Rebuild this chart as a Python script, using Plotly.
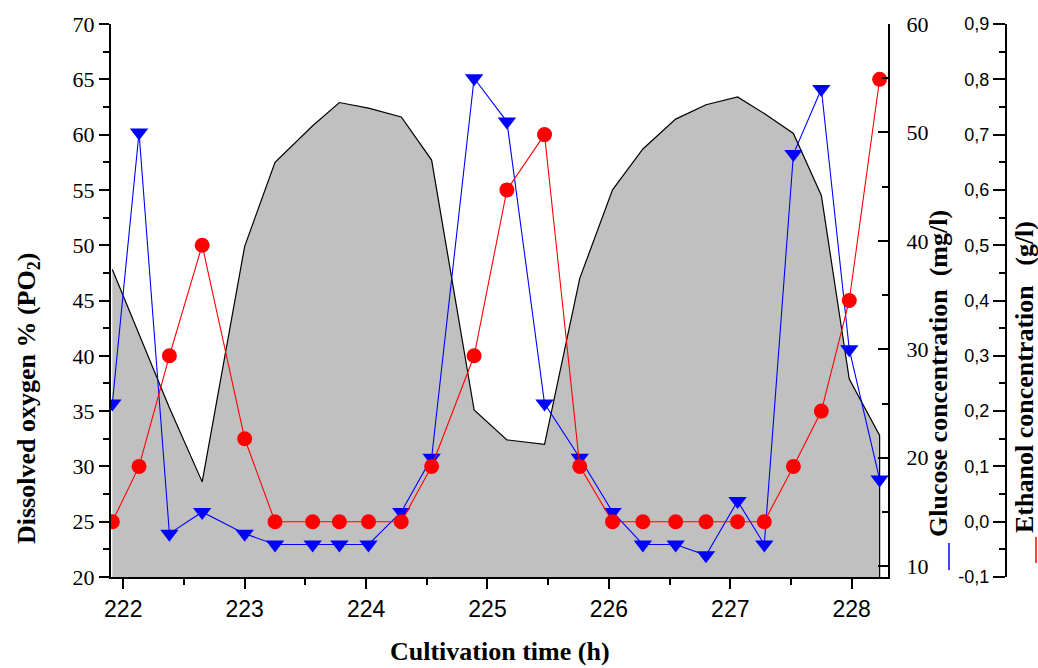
import plotly.graph_objects as go

# Sampling times (h)
TIME = [221.91, 222.13, 222.38, 222.65, 223.00, 223.25, 223.56, 223.78, 224.02,
        224.29, 224.54, 224.89, 225.16, 225.47, 225.76, 226.03, 226.28, 226.55,
        226.80, 227.06, 227.28, 227.52, 227.75, 227.98, 228.23]

# Dissolved oxygen, % of saturation (PO2)
DISSOLVED_O2 = [47.8, 41.9, 35.3, 28.6, 49.9, 57.5, 60.8, 62.9, 62.4, 61.6, 57.7,
                35.1, 32.4, 32.0, 47.0, 55.0, 58.7, 61.4, 62.7, 63.4, 61.9, 60.1,
                54.5, 37.9, 32.8]

# Glucose concentration (mg/l)
GLUCOSE = [25, 50, 13, 15, 13, 12, 12, 12, 12, 15, 20, 55, 51, 25, 20, 15, 12, 12,
           11, 16, 12, 48, 54, 30, 18]

# Ethanol concentration (g/l)
ETHANOL = [0.0, 0.1, 0.3, 0.5, 0.15, 0.0, 0.0, 0.0, 0.0, 0.0, 0.1, 0.3, 0.6, 0.7,
           0.1, 0.0, 0.0, 0.0, 0.0, 0.0, 0.0, 0.1, 0.2, 0.4, 0.8]

X_TICKS = [222, 223, 224, 225, 226, 227, 228]
ETHANOL_TICKS = [-0.1, 0.0, 0.1, 0.2, 0.3, 0.4, 0.5, 0.6, 0.7, 0.8, 0.9]
ETHANOL_TICK_LABELS = ["-0,1", "0,0", "0,1", "0,2", "0,3", "0,4", "0,5", "0,6",
                       "0,7", "0,8", "0,9"]

O2_RANGE = [20, 70]
GLUCOSE_RANGE = [9, 60]
ETHANOL_RANGE = [-0.1, 0.9]
TIME_RANGE = [221.899, 228.299]

SERIF = "Liberation Serif, Times New Roman, serif"
SANS = "Liberation Sans, Arial, sans-serif"
NARROW = "Liberation Sans Narrow, Arial Narrow, Liberation Sans, Arial, sans-serif"

fig = go.Figure()

# Dissolved oxygen as a grey area, closed down to the axis floor at the last sample
fig.add_trace(go.Scatter(
    x=TIME + [TIME[-1]],
    y=DISSOLVED_O2 + [O2_RANGE[0]],
    mode="lines",
    fill="tozeroy",
    fillcolor="#c0c0c0",
    line=dict(color="black", width=1.2),
    yaxis="y",
    hoverinfo="skip",
    showlegend=False,
))

fig.add_trace(go.Scatter(
    x=TIME, y=GLUCOSE,
    mode="lines+markers",
    line=dict(color="#0000ff", width=1.1),
    marker=dict(symbol="triangle-down", size=16, color="#0000ff"),
    yaxis="y2",
    showlegend=False,
))

fig.add_trace(go.Scatter(
    x=TIME, y=ETHANOL,
    mode="lines+markers",
    line=dict(color="#ff0000", width=1.1),
    marker=dict(symbol="circle", size=15, color="#ff0000"),
    yaxis="y3",
    showlegend=False,
))

axis_common = dict(
    showgrid=False, zeroline=False, showline=True, linecolor="black", linewidth=2,
    tickcolor="black", tickwidth=2,
)

W, H = 1038, 668
L, R, T, B = 111, 32, 24, 91
plot_w = W - L - R
plot_h = H - T - B
x_end = (888 - L) / plot_w


def px_x(p):
    return (p - L) / plot_w


def px_y(p):
    return (H - B - p) / plot_h


fig.update_layout(
    width=W, height=H,
    margin=dict(l=L, r=R, t=T, b=B, pad=0),
    plot_bgcolor="white", paper_bgcolor="white",
    xaxis=dict(
        domain=[0, x_end], range=TIME_RANGE,
        tickmode="array", tickvals=X_TICKS,
        ticks="outside", ticklen=10,
        minor=dict(dtick=0.5, tick0=0, ticks="outside", ticklen=6, tickwidth=2,
                   tickcolor="black"),
        tickfont=dict(family=NARROW, size=23, color="black"),
        **axis_common,
    ),
    yaxis=dict(
        range=O2_RANGE, dtick=5, tick0=0,
        ticks="outside", ticklen=10,
        minor=dict(dtick=2.5, tick0=0, ticks="outside", ticklen=6, tickwidth=2,
                   tickcolor="black"),
        tickfont=dict(family=SERIF, size=22, color="black"),
        **axis_common,
    ),
    yaxis2=dict(
        range=GLUCOSE_RANGE, dtick=10, tick0=0,
        overlaying="y", side="right", anchor="x",
        ticks="inside", ticklen=10, ticklabelstandoff=12,
        minor=dict(dtick=5, tick0=0, ticks="inside", ticklen=6, tickwidth=2,
                   tickcolor="black"),
        tickfont=dict(family=SERIF, size=22, color="black"),
        **axis_common,
    ),
    yaxis3=dict(
        range=ETHANOL_RANGE,
        tickmode="array", tickvals=ETHANOL_TICKS, ticktext=ETHANOL_TICK_LABELS,
        overlaying="y", side="left", anchor="free", position=1.0,
        ticks="outside", ticklen=12,
        minor=dict(tickmode="linear", dtick=0.05, tick0=0, ticks="outside",
                   ticklen=6, tickwidth=2, tickcolor="black"),
        tickfont=dict(family=SANS, size=18, color="black"),
        **axis_common,
    ),
)

title_font = dict(family=SERIF, size=26, color="black")

fig.add_annotation(
    text="<b>Dissolved oxygen % (PO<sub>2</sub>)</b>", textangle=-90,
    xref="paper", yref="paper", x=px_x(28), y=px_y(398),
    xanchor="center", yanchor="middle", showarrow=False, font=title_font,
)
fig.add_annotation(
    text="<b>Cultivation time (h)</b>",
    xref="paper", yref="paper", x=px_x(500), y=px_y(651),
    xanchor="center", yanchor="middle", showarrow=False, font=title_font,
)
fig.add_annotation(
    text="<b>Glucose concentration  (mg/l)</b>", textangle=-90,
    xref="paper", yref="paper", x=px_x(938), y=px_y(374),
    xanchor="center", yanchor="middle", showarrow=False, font=title_font,
)
fig.add_annotation(
    text="<b>Ethanol concentration   (g/l)</b>", textangle=-90,
    xref="paper", yref="paper", x=px_x(1025), y=px_y(377),
    xanchor="center", yanchor="middle", showarrow=False, font=title_font,
)

# Short colour keys beneath the right-hand axis titles
fig.add_shape(type="line", xref="paper", yref="paper",
              x0=px_x(949), x1=px_x(949), y0=px_y(543), y1=px_y(570),
              line=dict(color="#0000ff", width=1.5))
fig.add_shape(type="line", xref="paper", yref="paper",
              x0=px_x(1036), x1=px_x(1036), y0=px_y(537), y1=px_y(563),
              line=dict(color="#ff0000", width=1.5))

fig.write_html("out.html")
